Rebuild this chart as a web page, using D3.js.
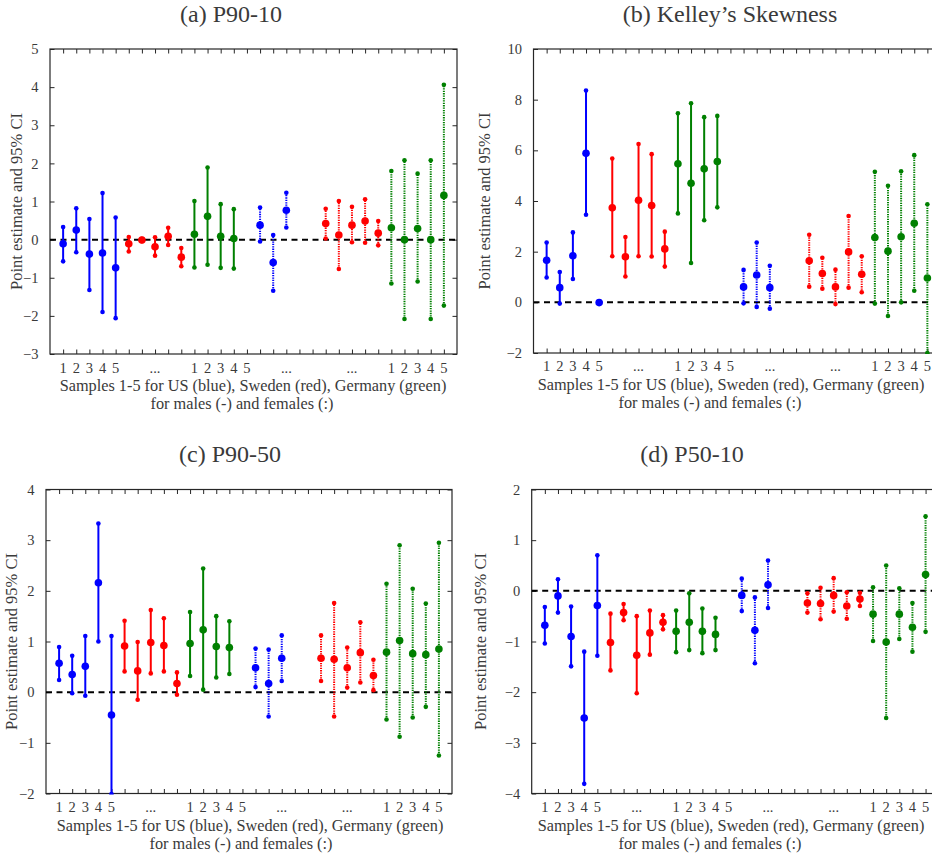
<!DOCTYPE html>
<html><head><meta charset="utf-8">
<script src="https://cdn.jsdelivr.net/npm/d3@7"></script>
<style>
html,body{margin:0;padding:0;background:#fff;}
svg{display:block;}
text{font-family:"Liberation Serif","DejaVu Serif",serif;fill:#3a3a3a;}
</style></head>
<body><svg id="chart" width="932" height="856"></svg>
<script>
// x positions of the estimates (US m 1-5, SE m 1-5, DE m 1-4, US f 1-3, SE f 1-5, DE f 1-5)
const positions = [1,2,3,4,5, 6,7,8,9,10, 11,12,13,14, 16,17,18, 21,22,23,24,25, 26,27,28,29,30];
const groupOfPoint = [0,0,0,0,0, 1,1,1,1,1, 2,2,2,2, 3,3,3, 4,4,4,4,4, 5,5,5,5,5];
const groupColors = ["#0000ff","#ff0000","#008000","#0000ff","#ff0000","#008000"];
const groupDotted = [false,false,false,true,true,true];

const xTickPositions = [1,2,3,4,5, 8, 11,12,13,14,15, 18, 23, 26,27,28,29,30];
const xTickLabels   = ["1","2","3","4","5","...","1","2","3","4","5","...","...","1","2","3","4","5"];

// (a) P90-10
const p9010Est = [-0.11,0.25,-0.38,-0.35,-0.74, -0.11,-0.01,-0.19,0.09,-0.46, 0.14,0.61,0.09,0.03, 0.38,-0.60,0.77, 0.42,0.12,0.38,0.49,0.17, 0.31,0.00,0.29,0.00,1.16];
const p9010Lo  = [-0.57,-0.33,-1.32,-1.90,-2.06, -0.31,-0.04,-0.42,-0.14,-0.70, -0.73,-0.66,-0.74,-0.76, -0.05,-1.34,0.32, 0.03,-0.77,-0.07,-0.08,-0.15, -1.15,-2.08,-1.10,-2.08,-1.73];
const p9010Hi  = [0.33,0.82,0.54,1.22,0.58, 0.07,0.02,0.06,0.31,-0.22, 1.01,1.89,0.93,0.80, 0.84,0.12,1.23, 0.81,1.01,0.86,1.06,0.49, 1.80,2.08,1.73,2.08,4.06];

// (b) Kelley's Skewness
const kellyEst = [1.66,0.58,1.84,5.88,-0.01, 3.73,1.80,4.03,3.82,2.11, 5.47,4.70,5.27,5.56, 0.61,1.08,0.58, 1.64,1.14,0.61,1.99,1.11, 2.56,2.02,2.59,3.12,0.96];
const kellyLo  = [0.98,-0.05,0.92,3.46,-0.03, 1.82,1.02,1.82,1.81,1.41, 3.51,1.55,3.24,3.75, -0.04,-0.18,-0.25, 0.62,0.54,-0.07,0.58,0.40, -0.05,-0.54,0.00,0.46,-2.00];
const kellyHi  = [2.36,1.20,2.76,8.36,0.01, 5.68,2.58,6.25,5.85,2.79, 7.46,7.86,7.31,7.36, 1.28,2.36,1.44, 2.67,1.76,1.29,3.41,1.82, 5.15,4.60,5.17,5.81,3.87];

// (c) P90-50
const p9050Est = [0.57,0.35,0.51,2.16,-0.45, 0.91,0.42,0.98,0.92,0.17, 0.96,1.23,0.90,0.88, 0.48,0.17,0.67, 0.67,0.65,0.48,0.78,0.33, 0.79,1.02,0.76,0.74,0.85];
const p9050Lo  = [0.24,-0.02,-0.07,1.00,-2.01, 0.41,-0.15,0.37,0.41,-0.05, 0.32,0.05,0.29,0.36, 0.10,-0.48,0.22, 0.22,-0.48,0.09,0.19,0.04, -0.54,-0.88,-0.50,-0.29,-1.25];
const p9050Hi  = [0.89,0.72,1.11,3.33,1.11, 1.41,0.99,1.62,1.46,0.39, 1.58,2.44,1.50,1.40, 0.86,0.84,1.12, 1.12,1.76,0.88,1.38,0.64, 2.14,2.90,2.04,1.75,2.95];

// (d) P50-10
const p5010Est = [-0.68,-0.10,-0.90,-2.51,-0.29, -1.02,-0.43,-1.27,-0.83,-0.62, -0.80,-0.62,-0.80,-0.86, -0.09,-0.78,0.12, -0.24,-0.25,-0.09,-0.30,-0.16, -0.46,-1.01,-0.46,-0.72,0.32];
const p5010Lo  = [-1.04,-0.43,-1.49,-3.81,-1.28, -1.57,-0.58,-2.02,-1.26,-0.76, -1.21,-1.17,-1.23,-1.17, -0.40,-1.43,-0.34, -0.43,-0.56,-0.41,-0.55,-0.30, -0.99,-2.51,-0.95,-1.20,-0.81];
const p5010Hi  = [-0.32,0.23,-0.31,-1.20,0.70, -0.45,-0.26,-0.50,-0.39,-0.48, -0.39,-0.05,-0.35,-0.53, 0.24,-0.13,0.60, -0.05,0.06,0.25,-0.03,-0.04, 0.07,0.50,0.05,-0.24,1.47];

const panelTitles = ["(a) P90-10","(b) Kelley\u2019s Skewness","(c) P90-50","(d) P50-10"];
const yDomains = [[-3,5],[-2,10],[-2,4],[-4,2]];
const yTickValues = [d3.range(-3,6,1), d3.range(-2,11,2), d3.range(-2,5,1), d3.range(-4,3,1)];
const yLabel = "Point estimate and 95% CI";
const xLabel1 = "Samples 1-5 for US (blue), Sweden (red), Germany (green)";
const xLabel2 = "for males (-) and females (:)";

const panelData = [
  [p9010Est,p9010Lo,p9010Hi],
  [kellyEst,kellyLo,kellyHi],
  [p9050Est,p9050Lo,p9050Hi],
  [p5010Est,p5010Lo,p5010Hi]
];

// layout
const boxes = [
  {x:50,   y:49,    w:407, h:305, title:231, yl:18,  xl1:253, xl2:242},
  {x:533.5,y:49,    w:407, h:304, title:730, yl:486, xl1:731, xl2:710},
  {x:46,   y:489.5, w:406, h:304, title:230, yl:13,  xl1:250, xl2:241},
  {x:531.7,y:489.5, w:407, h:304, title:692, yl:482, xl1:731, xl2:710}
];

const svg = d3.select("#chart");
const axisColor = "#262626";

function fitText(sel, target) {
  const n = sel.node();
  const w = n.getComputedTextLength();
  const fs = parseFloat(sel.attr("font-size"));
  sel.attr("font-size", (fs * target / w).toFixed(2));
}

boxes.forEach((b, i) => {
  const g = svg.append("g");
  const x = d3.scaleLinear().domain([0,31]).range([b.x, b.x + b.w]);
  const y = d3.scaleLinear().domain(yDomains[i]).range([b.y + b.h, b.y]);
  const clipId = "clip" + i;
  svg.append("clipPath").attr("id", clipId).append("rect")
    .attr("x", b.x).attr("y", b.y - 1).attr("width", b.w).attr("height", b.h + 2);

  // axes (ticks inside, on all four sides)
  const tickLen = 4.5;
  const bottomAxis = d3.axisBottom(x).tickValues(d3.range(1,31)).tickSize(-tickLen).tickFormat("");
  const topAxis = d3.axisTop(x).tickValues(d3.range(1,31)).tickSize(-tickLen).tickFormat("");
  const leftAxis = d3.axisLeft(y).tickValues(yTickValues[i]).tickSize(-tickLen).tickPadding(7 + tickLen).tickFormat(d3.format("d"));
  const rightAxis = d3.axisRight(y).tickValues(yTickValues[i]).tickSize(-tickLen).tickFormat("");

  const styleAxis = a => {
    a.selectAll(".domain").remove();
    a.selectAll("line").attr("stroke", axisColor).attr("stroke-width", 1);
    a.selectAll("text").attr("font-size", 14.5).attr("fill", "#3a3a3a")
      .attr("font-family", '"Liberation Serif","DejaVu Serif",serif');
  };
  g.append("g").attr("transform", `translate(0,${b.y + b.h})`).call(bottomAxis).call(styleAxis);
  g.append("g").attr("transform", `translate(0,${b.y})`).call(topAxis).call(styleAxis);
  g.append("g").attr("transform", `translate(${b.x},0)`).call(leftAxis).call(styleAxis);
  g.append("g").attr("transform", `translate(${b.x + b.w},0)`).call(rightAxis).call(styleAxis);

  // x tick labels
  g.selectAll(".xtl").data(xTickPositions).enter().append("text")
    .attr("x", d => x(d)).attr("y", b.y + b.h + (i === 0 ? 18.5 : 18))
    .attr("text-anchor", "middle").attr("font-size", 14.5)
    .text((d, k) => xTickLabels[k]);

  // box
  g.append("rect").attr("x", b.x).attr("y", b.y).attr("width", b.w).attr("height", b.h)
    .attr("fill", "none").attr("stroke", axisColor).attr("stroke-width", 1.2);

  // zero line
  g.append("line").attr("x1", b.x).attr("x2", b.x + b.w).attr("y1", y(0)).attr("y2", y(0))
    .attr("stroke", "#000").attr("stroke-width", 2).attr("stroke-dasharray", "6,4.5")
    .attr("clip-path", `url(#${clipId})`);

  // data
  const [est, lo, hi] = panelData[i];
  const pts = positions.map((p, k) => ({p, e: est[k], lo: lo[k], hi: hi[k], grp: groupOfPoint[k]}));
  const dg = g.append("g").attr("clip-path", `url(#${clipId})`);
  dg.selectAll(".ci").data(pts).enter().append("line")
    .attr("x1", d => x(d.p)).attr("x2", d => x(d.p))
    .attr("y1", d => y(d.lo)).attr("y2", d => y(d.hi))
    .attr("stroke", d => groupColors[d.grp])
    .attr("stroke-width", 2)
    .attr("stroke-dasharray", d => groupDotted[d.grp] ? "1.3,1.1" : null);
  ["lo","hi"].forEach(k => {
    dg.selectAll(".end" + k).data(pts).enter().append("circle")
      .attr("cx", d => x(d.p)).attr("cy", d => y(d[k])).attr("r", 2.3)
      .attr("fill", d => groupColors[d.grp]);
  });
  dg.selectAll(".pt").data(pts).enter().append("circle")
    .attr("cx", d => x(d.p)).attr("cy", d => y(d.e)).attr("r", 3.8)
    .attr("fill", d => groupColors[d.grp]);

  // title
  svg.append("text").attr("x", b.title).attr("y", b.y - 27.5)
    .attr("text-anchor", "middle").attr("font-size", 24).attr("fill", "#111").text(panelTitles[i]);
  // y label
  const yl = svg.append("text")
    .attr("transform", `translate(${b.yl},${b.y + b.h / 2}) rotate(-90)`)
    .attr("text-anchor", "middle").attr("dominant-baseline", "middle")
    .attr("font-size", 15).text(yLabel);
  fitText(yl, 177);
  const l1 = svg.append("text").attr("x", b.xl1).attr("y", b.y + b.h + 37)
    .attr("text-anchor", "middle").attr("font-size", 15).text(xLabel1);
  fitText(l1, 387);
  const l2 = svg.append("text").attr("x", b.xl2).attr("y", b.y + b.h + 55)
    .attr("text-anchor", "middle").attr("font-size", 15).text(xLabel2);
  l2.attr("font-size", l1.attr("font-size"));
});
</script></body></html>
